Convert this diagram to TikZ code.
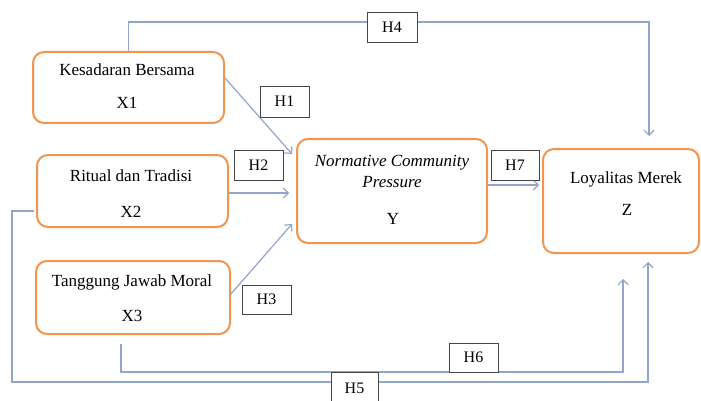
\documentclass[tikz,border=0pt]{standalone}
\usepackage{fontspec}
\setmainfont{Liberation Serif}
\usetikzlibrary{calc,arrows.meta}
\definecolor{boxorange}{RGB}{240,150,80}
\definecolor{linkblue}{RGB}{145,165,205}
\definecolor{labgray}{RGB}{70,70,70}
\begin{document}
\begin{tikzpicture}[x=1pt,y=-1pt,
  varbox/.style={draw=boxorange,line width=2pt,rounded corners=11pt,fill=white,inner sep=0pt},
  vtext/.style={anchor=base,inner sep=0pt,font=\fontsize{17}{20}\selectfont},
  hbox/.style={draw=labgray,line width=0.8pt,fill=white,inner sep=0pt,font=\fontsize{16}{19}\selectfont},
  conn/.style={draw=linkblue,line width=1.2pt},
  arr/.style={conn,-{Straight Barb[length=5pt,width=10pt]}}]
\useasboundingbox (0,0) rectangle (701,401);
\clip (0,0) rectangle (701,401);
\fill[white] (0,0) rectangle (701,401);
% boxes
\node[varbox,minimum width=191pt,minimum height=71pt] (x1) at (128.5,87.5) {};
\node[varbox,minimum width=191pt,minimum height=72pt] (x2) at (132.5,191) {};
\node[varbox,minimum width=194pt,minimum height=73pt] (x3) at (133,297.5) {};
\node[varbox,minimum width=190pt,minimum height=104pt] (y) at (392,191) {};
\node[varbox,minimum width=156pt,minimum height=104pt] (z) at (621,201) {};
% texts
\node[vtext] (x1a) at (127,76) {Kesadaran Bersama};
\node[vtext] (x1b) at (127,109) {X1};
\node[vtext] (x2a) at (131,181) {Ritual dan Tradisi};
\node[vtext] (x2b) at (131,217) {X2};
\node[vtext] (x3a) at (132,286) {Tanggung Jawab Moral};
\node[vtext] (x3b) at (132,321) {X3};
\node[vtext] (ya) at (392,166) {\itshape Normative Community};
\node[vtext] (yb) at (392,187) {\itshape Pressure};
\node[vtext] (yc) at (393,224) {Y};
\node[vtext] (za) at (626,183) {Loyalitas Merek};
\node[vtext] (zb) at (627,215) {Z};
% connectors
\draw[arr] (x1.north) -- ++(0,-29) -| ($(z.north)+(28,-12)$);
\draw[arr] ($(x1.east)+(0,-9.5)$) -- ($(y.west)+(-4,-37)$);
\draw[arr] ($(x2.east)+(0,2)$) -- ($(y.west)+(-7,2)$);
\draw[arr] ($(x3.east)+(-1,-2.5)$) -- ($(y.west)+(-4,33)$);
\draw[arr] ($(y.east)+(0,-6)$) -- ($(z.west)+(-3,-16)$);
\draw[arr] ($(x3.south)+(-12,9)$) -- ++(0,28) -| ($(z.south)+(2,25)$);
\draw[arr] ($(x2.west)+(-2,20)$) -| ++(-22,171) -| ($(z.south)+(27,8)$);
% labels
\node[hbox,minimum width=49pt,minimum height=31pt] (h1) at (284.5,101.5) {H1};
\node[hbox,minimum width=49pt,minimum height=30pt] (h2) at (258.5,165) {H2};
\node[hbox,minimum width=49pt,minimum height=29pt] (h3) at (266.5,299.5) {H3};
\node[hbox,minimum width=50pt,minimum height=30pt] (h4) at (392,27) {H4};
\node[hbox,minimum width=48pt,minimum height=30pt] (h7) at (515,165) {H7};
\node[hbox,minimum width=49pt,minimum height=29pt] (h6) at (473.5,357.5) {H6};
\node[hbox,minimum width=47pt,minimum height=32pt] (h5) at (354.5,388) {H5};
\end{tikzpicture}
\end{document}
